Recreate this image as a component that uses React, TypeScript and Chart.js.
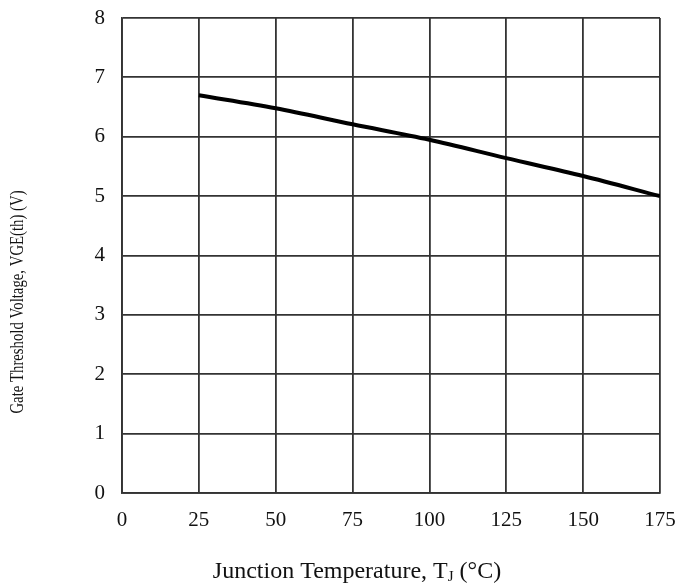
import React, { useEffect, useRef } from "react";
import { Chart, registerables } from "chart.js";

Chart.register(...registerables);

const temperatures = [25, 50, 75, 100, 125, 150, 175];
const thresholdVoltage = [6.7, 6.48, 6.21, 5.95, 5.64, 5.34, 5.0];
const xTicks = [0, 25, 50, 75, 100, 125, 150, 175];
const yTicks = [0, 1, 2, 3, 4, 5, 6, 7, 8];

const FONT = "'Liberation Serif', 'DejaVu Serif', serif";
const GRID = "#333";

export default function App() {
  const ref = useRef<HTMLCanvasElement | null>(null);

  useEffect(() => {
    document.body.style.margin = "0";
    const canvas = ref.current;
    if (!canvas) return;

    const titlePlugin = {
      id: "axisTitles",
      afterDraw(chart: any) {
        const ctx = chart.ctx as CanvasRenderingContext2D;
        ctx.save();
        ctx.fillStyle = "#111";
        ctx.font = `18px ${FONT}`;
        ctx.translate(18, 302);
        ctx.rotate(-Math.PI / 2);
        ctx.scale(0.82, 1);
        ctx.textAlign = "center";
        ctx.textBaseline = "middle";
        ctx.fillText("Gate Threshold Voltage, VGE(th) (V)", 0, 0);
        ctx.restore();

        ctx.save();
        ctx.fillStyle = "#111";
        const big = `24px ${FONT}`;
        const small = `15px ${FONT}`;
        const p1 = "Junction Temperature, T";
        const p2 = "J";
        const p3 = " (°C)";
        ctx.font = big;
        const w1 = ctx.measureText(p1).width;
        const w3 = ctx.measureText(p3).width;
        ctx.font = small;
        const w2 = ctx.measureText(p2).width;
        const total = w1 + w2 + w3;
        let x = 357 - total / 2;
        const baseY = 578;
        ctx.textBaseline = "alphabetic";
        ctx.textAlign = "left";
        ctx.font = big;
        ctx.fillText(p1, x, baseY);
        x += w1;
        ctx.font = small;
        ctx.fillText(p2, x, baseY + 3);
        x += w2;
        ctx.font = big;
        ctx.fillText(p3, x, baseY);
        ctx.restore();
      },
    };

    const chart = new Chart(canvas, {
      type: "line",
      data: {
        datasets: [
          {
            data: temperatures.map((t, i) => ({ x: t, y: thresholdVoltage[i] })),
            borderColor: "#000",
            borderWidth: 4,
            pointRadius: 0,
            fill: false,
            cubicInterpolationMode: "monotone",
          },
        ],
      },
      options: {
        responsive: false,
        animation: false,
        devicePixelRatio: 1,
        layout: { padding: { left: 0, top: 18, right: 20, bottom: 0 } },
        plugins: {
          legend: { display: false },
          tooltip: { enabled: false },
          title: { display: false },
        },
        scales: {
          x: {
            type: "linear",
            min: 0,
            max: 175,
            afterBuildTicks(scale: any) {
              scale.ticks = xTicks.map((v) => ({ value: v }));
            },
            afterFit(scale: any) {
              scale.height = 92;
              scale.paddingLeft = 0;
              scale.paddingRight = 0;
            },
            ticks: {
              color: "#111",
              font: { family: FONT, size: 21 },
              padding: 15,
              maxRotation: 0,
            },
            grid: { color: GRID, lineWidth: 1.8, drawTicks: false },
            border: { color: GRID, width: 1.8 },
          },
          y: {
            type: "linear",
            min: 0,
            max: 8,
            afterBuildTicks(scale: any) {
              scale.ticks = yTicks.map((v) => ({ value: v }));
            },
            afterFit(scale: any) {
              scale.width = 122;
              scale.paddingTop = 0;
              scale.paddingBottom = 0;
            },
            ticks: {
              color: "#111",
              font: { family: FONT, size: 21 },
              padding: 17,
            },
            grid: { color: GRID, lineWidth: 1.8, drawTicks: false },
            border: { color: GRID, width: 1.8 },
          },
        },
      },
      plugins: [titlePlugin],
    } as any);

    return () => chart.destroy();
  }, []);

  return (
    <div style={{ width: 680, height: 585, background: "#fff" }}>
      <canvas ref={ref} width={680} height={585} style={{ display: "block" }} />
    </div>
  );
}
